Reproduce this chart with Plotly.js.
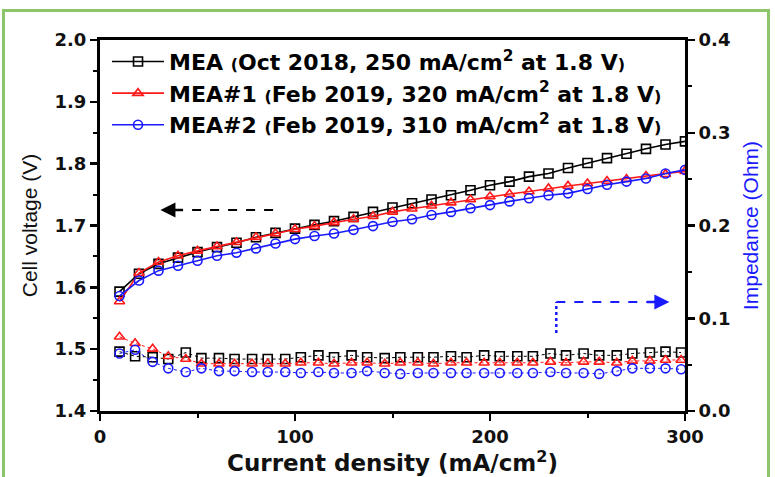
<!DOCTYPE html>
<html><head><meta charset="utf-8">
<script src="https://cdn.plot.ly/plotly-3.0.1.min.js"></script>
<style>
html,body{margin:0;padding:0;background:#fff;}
#wrap{position:relative;width:775px;height:477px;overflow:hidden;}
#chart{width:775px;height:477px;}
#frame{position:absolute;left:2px;top:9px;width:768px;height:480px;border:3px solid #8cc56c;box-sizing:border-box;pointer-events:none;}
</style></head>
<body><div id="wrap"><div id="chart"></div><div id="frame"></div></div>
<script>
// Polarization curves (left axis, V)
const currentV = [10,20,30,40,50,60,70,80,90,100,110,120,130,140,150,160,170,180,190,200,210,220,230,240,250,260,270,280,290,300];
const voltMEA  = [1.593,1.622,1.638,1.648,1.657,1.665,1.672,1.681,1.688,1.695,1.701,1.707,1.714,1.722,1.729,1.736,1.742,1.749,1.757,1.765,1.771,1.779,1.784,1.793,1.801,1.809,1.816,1.824,1.831,1.836];
const voltMEA1 = [1.577,1.623,1.641,1.651,1.659,1.666,1.673,1.681,1.687,1.694,1.699,1.705,1.710,1.715,1.722,1.727,1.732,1.737,1.742,1.747,1.751,1.755,1.760,1.764,1.768,1.772,1.775,1.780,1.783,1.788];
const voltMEA2 = [1.586,1.611,1.627,1.635,1.643,1.651,1.656,1.663,1.671,1.678,1.683,1.687,1.693,1.699,1.706,1.710,1.717,1.722,1.728,1.733,1.739,1.744,1.749,1.752,1.759,1.766,1.771,1.776,1.784,1.790];
// Impedance (right axis, Ohm)
const currentZ = [10,18,27,35,44,52,61,69,78,86,95,103,112,120,129,137,146,154,163,171,180,188,197,205,214,222,231,239,248,256,265,273,282,290,298];
const impMEA  = [0.064,0.059,0.058,0.056,0.063,0.057,0.057,0.056,0.056,0.056,0.056,0.058,0.060,0.058,0.060,0.058,0.057,0.058,0.058,0.058,0.059,0.058,0.060,0.059,0.059,0.059,0.062,0.060,0.062,0.060,0.060,0.062,0.063,0.064,0.063];
const impMEA1 = [0.080,0.073,0.067,0.059,0.056,0.051,0.051,0.051,0.051,0.051,0.051,0.052,0.052,0.051,0.052,0.052,0.051,0.052,0.052,0.051,0.052,0.052,0.052,0.052,0.052,0.052,0.053,0.052,0.053,0.053,0.052,0.054,0.054,0.055,0.055];
const impMEA2 = [0.062,0.066,0.053,0.046,0.042,0.046,0.043,0.043,0.042,0.042,0.042,0.041,0.042,0.041,0.041,0.043,0.041,0.040,0.041,0.041,0.041,0.041,0.041,0.041,0.041,0.041,0.042,0.041,0.041,0.040,0.043,0.046,0.046,0.046,0.045];

const P = s => '<span style="font-size:16px;color:#000">' + s + '</span>';
const names = [
 'MEA ' + P('(') + 'Oct 2018, 250 mA/cm<sup>2</sup> at 1.8 V' + P(')'),
 'MEA#1 ' + P('(') + 'Feb 2019, 320 mA/cm<sup>2</sup> at 1.8 V' + P(')'),
 'MEA#2 ' + P('(') + 'Feb 2019, 310 mA/cm<sup>2</sup> at 1.8 V' + P(')')
];
const colors = ['#000000','#ff1a1a','#1a1aff'];
const symbols = ['square-open','triangle-up-open','circle-open'];
const volts = [voltMEA, voltMEA1, voltMEA2];
const imps = [impMEA, impMEA1, impMEA2];

const traces = [];
for (let i=0;i<3;i++){
  traces.push({x:currentV, y:volts[i], type:'scatter', mode:'lines+markers', name:names[i],
    xaxis:'x', yaxis:'y',
    line:{color:colors[i], width:1.6}, marker:{symbol:symbols[i], size:9, color:colors[i], line:{width:1.6,color:colors[i]}}});
}
for (let i=0;i<3;i++){
  traces.push({x:currentZ, y:imps[i], type:'scatter', mode:'lines+markers', showlegend:false,
    xaxis:'x', yaxis:'y2',
    line:{color:colors[i], width:1, dash:'dot'}, marker:{symbol:symbols[i], size:9, color:colors[i], line:{width:1.6,color:colors[i]}}});
}

const BOLD = 'DejaVu Sans, Liberation Sans, Arial, sans-serif';
const tickFont = {family:BOLD, size:18, weight:'bold', color:'#111'};
const layout = {
  width:775, height:477,
  margin:{l:100, r:90, t:40, b:66},
  paper_bgcolor:'#fff', plot_bgcolor:'#fff',
  showlegend:true,
  legend:{x:0.012, y:0.998, xanchor:'left', yanchor:'top', bgcolor:'rgba(0,0,0,0)',
    font:{family:BOLD, size:22, weight:'bold', color:'#000'},
    itemwidth:52},
  xaxis:{range:[0,300], dtick:100, tick0:0, showgrid:false, zeroline:false,
    showline:true, linewidth:3, linecolor:'#000', mirror:true,
    ticks:'outside', ticklen:7, tickwidth:2.5, tickcolor:'#000',
    minor:{dtick:50, ticks:'outside', ticklen:4, tickwidth:2, tickcolor:'#000'},
    tickfont:tickFont,
    title:{text:'Current density (mA/cm<sup>2</sup>)', standoff:2,
      font:{family:BOLD, size:23, weight:'bold', color:'#111'}}},
  yaxis:{range:[1.4,2.0], dtick:0.1, tickformat:'.1f', showgrid:false, zeroline:false,
    showline:true, linewidth:3, linecolor:'#000',
    ticks:'outside', ticklen:7, tickwidth:2.5, tickcolor:'#000',
    minor:{dtick:0.05, ticks:'outside', ticklen:4, tickwidth:2, tickcolor:'#000'},
    tickfont:tickFont,
    title:{text:'Cell voltage (V)', standoff:12,
      font:{family:'Liberation Sans, Arial, sans-serif', size:21, color:'#111'}}},
  yaxis2:{range:[0,0.4], dtick:0.1, tickformat:'.1f', overlaying:'y', side:'right', showgrid:false, zeroline:false,
    showline:true, linewidth:3, linecolor:'#000',
    ticks:'outside', ticklen:7, tickwidth:2.5, tickcolor:'#000',
    minor:{dtick:0.05, ticks:'outside', ticklen:4, tickwidth:2, tickcolor:'#000'},
    tickfont:tickFont,
    title:{text:'Impedance (Ohm)', standoff:14,
      font:{family:'Liberation Sans, Arial, sans-serif', size:21, color:'#1a1aff'}}},
  shapes:[
    {type:'line', xref:'x', yref:'y', x0:38, x1:90, y0:1.725, y1:1.725, line:{color:'#000', width:2, dash:'dash'}},
    {type:'line', xref:'x', yref:'y2', x0:234, x1:234, y0:0.084, y1:0.1175, line:{color:'#1a1aff', width:2.5, dash:'dot'}},
    {type:'line', xref:'x', yref:'y2', x0:234, x1:282, y0:0.1175, y1:0.1175, line:{color:'#1a1aff', width:2, dash:'dash'}}
  ],
  annotations:[
    {xref:'x', yref:'y', x:31, y:1.725, ax:24, ay:0, text:'', showarrow:true, arrowhead:2, arrowsize:1.2, arrowwidth:2.5, arrowcolor:'#000'},
    {xref:'x', yref:'y2', x:292, y:0.1175, ax:-24, ay:0, text:'', showarrow:true, arrowhead:2, arrowsize:1.2, arrowwidth:2.5, arrowcolor:'#1a1aff'}
  ]
};
Plotly.newPlot('chart', traces, layout, {displayModeBar:false, staticPlot:true});
</script></body></html>
